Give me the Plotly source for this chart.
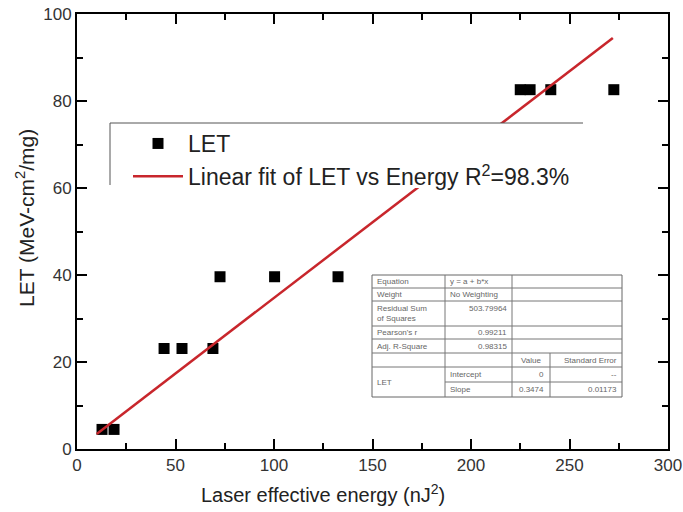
import plotly.graph_objects as go

# Measured points: laser effective energy (nJ^2) vs heavy-ion LET
energy = [12.7, 18.8, 44.2, 53.3, 69.0, 72.6, 100.3, 132.5, 225.0, 230.0, 240.5, 272.5]
let_values = [4.5, 4.5, 23.1, 23.1, 23.1, 39.6, 39.6, 39.6, 82.6, 82.6, 82.6, 82.6]

# Linear fit parameters (intercept fixed at zero)
fit_intercept = 0.0
fit_slope = 0.3474
fit_x_range = [10, 272]

# Fit report table
table_rows = [
    ["Equation", "y = a + b*x"],
    ["Weight", "No Weighting"],
    ["Residual Sum<br>of Squares", "503.79964"],
    ["Pearson's r", "0.99211"],
    ["Adj. R-Square", "0.98315"],
]
table_header = ["Value", "Standard Error"]
table_params = [["Intercept", "0", "--"], ["Slope", "0.3474", "0.01173"]]
table_group = "LET"

x_ticks = [0, 50, 100, 150, 200, 250, 300]
y_ticks = [0, 20, 40, 60, 80, 100]
x_title = "Laser effective energy (nJ<sup>2</sup>)"
y_title = "LET (MeV-cm<sup>2</sup>/mg)"

W, H = 683, 512
ML, MR, MT, MB = 77, 15, 14, 63
PW, PH = W - ML - MR, H - MT - MB


def px(x):
    return (x - ML) / PW


def py(y):
    return (H - MB - y) / PH


fit_y = [fit_intercept + fit_slope * x for x in fit_x_range]

fig = go.Figure()
fig.add_trace(go.Scatter(
    x=energy, y=let_values, mode="markers", name="LET",
    marker=dict(symbol="square", size=11, color="black"),
))
fig.add_trace(go.Scatter(
    x=fit_x_range, y=fit_y, mode="lines",
    name="Linear fit of LET vs Energy R<sup>2</sup>=98.3%",
    line=dict(color="#c8262c", width=2.5),
))

shapes = []
annotations = []
LINE = "#555555"

# legend panel: white backing with top and left rules
shapes.append(dict(type="rect", xref="paper", yref="paper", x0=px(110), x1=px(583),
                   y0=py(188), y1=py(123), fillcolor="white", line=dict(width=0), layer="above"))
shapes.append(dict(type="line", xref="paper", yref="paper", x0=px(110), x1=px(583),
                   y0=py(123), y1=py(123), line=dict(color=LINE, width=1), layer="above"))
shapes.append(dict(type="line", xref="paper", yref="paper", x0=px(110), x1=px(110),
                   y0=py(123), y1=py(185), line=dict(color=LINE, width=1), layer="above"))

# fit report table
cols = [372, 445, 512, 550, 622]
rows = [275, 288, 301, 326, 339, 353, 367, 382, 397]
TL = "#777777"
shapes.append(dict(type="rect", xref="paper", yref="paper", x0=px(cols[0]), x1=px(cols[-1]),
                   y0=py(rows[-1]), y1=py(rows[0]), fillcolor="white",
                   line=dict(color="#666666", width=1), layer="above"))


def hline(y, x0, x1):
    shapes.append(dict(type="line", xref="paper", yref="paper", x0=px(x0), x1=px(x1),
                       y0=py(y), y1=py(y), line=dict(color=TL, width=1), layer="above"))


def vline(x, y0, y1):
    shapes.append(dict(type="line", xref="paper", yref="paper", x0=px(x), x1=px(x),
                       y0=py(y0), y1=py(y1), line=dict(color=TL, width=1), layer="above"))


for r in rows[1:6]:
    hline(r, cols[0], cols[-1])
hline(rows[6], cols[0], cols[-1])
hline(rows[7], cols[1], cols[-1])
vline(cols[1], rows[0], rows[-1])
vline(cols[2], rows[0], rows[-1])
vline(cols[3], rows[5], rows[-1])

TF = dict(family="Liberation Sans, Arial", size=8, color="#666666")


def cell_text(text, x, y, align):
    annotations.append(dict(xref="paper", yref="paper", x=px(x), y=py(y), text=text,
                            showarrow=False, xanchor=align, yanchor="middle",
                            align=align, font=TF))


for i, (label, val) in enumerate(table_rows):
    yc = (rows[i] + rows[i + 1]) / 2
    cell_text(label, cols[0] + 3, yc, "left")
    if i < 2:
        cell_text(val, cols[1] + 3, yc, "left")
    else:
        cell_text(val, cols[2] - 3, yc - (5 if i == 2 else 0), "right")

yc = (rows[5] + rows[6]) / 2
cell_text(table_header[0], (cols[2] + cols[3]) / 2, yc, "center")
cell_text(table_header[1], cols[4] - 3, yc, "right")
cell_text(table_group, cols[0] + 3, (rows[6] + rows[8]) / 2, "left")
for j, (name, val, err) in enumerate(table_params):
    yc = (rows[6 + j] + rows[7 + j]) / 2
    cell_text(name, cols[1] + 3, yc, "left")
    cell_text(val, cols[3] - 4, yc, "right")
    cell_text(err, cols[4] - 3, yc, "right")

# axis titles
annotations.append(dict(xref="paper", yref="paper", x=px(323), y=py(493), text=x_title,
                        showarrow=False, xanchor="center", yanchor="middle",
                        font=dict(family="Liberation Sans, Arial", size=20, color="#222222")))
annotations.append(dict(xref="paper", yref="paper", x=px(25), y=py(218), text=y_title,
                        textangle=-90, showarrow=False, xanchor="center", yanchor="middle",
                        font=dict(family="Liberation Sans, Arial", size=21, color="#222222")))

axis_common = dict(
    showline=True, linecolor="black", linewidth=2, mirror="ticks",
    ticks="inside", ticklen=10, tickwidth=2, tickcolor="black",
    showgrid=False, zeroline=False, automargin=False,
    tickfont=dict(family="Liberation Sans, Arial", size=17, color="#333333"),
)

fig.update_layout(
    width=W, height=H,
    margin=dict(l=ML, r=MR, t=MT, b=MB, autoexpand=False),
    paper_bgcolor="white", plot_bgcolor="white",
    font=dict(family="Liberation Sans, Arial", color="#222222"),
    xaxis=dict(
        range=[0, 300], tickvals=x_ticks,
        minor=dict(dtick=25, ticks="inside", ticklen=6, tickwidth=2, tickcolor="black"),
        **axis_common,
    ),
    yaxis=dict(
        range=[0, 100], tickvals=y_ticks, ticksuffix=" ",
        minor=dict(dtick=10, ticks="inside", ticklen=6, tickwidth=2, tickcolor="black"),
        **axis_common,
    ),
    legend=dict(
        x=px(128), y=py(122), xanchor="left", yanchor="top",
        bgcolor="rgba(0,0,0,0)", borderwidth=0, itemwidth=50,
        font=dict(family="Liberation Sans, Arial", size=23, color="#222222"),
        tracegroupgap=0,
    ),
    shapes=shapes,
    annotations=annotations,
)

fig.write_html("out.html")
